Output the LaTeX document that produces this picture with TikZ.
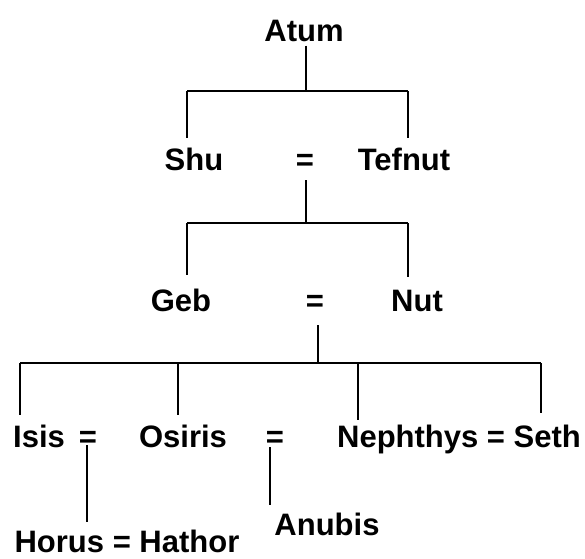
\documentclass[tikz,border=0pt]{standalone}
\usepackage{fontspec}
\setmainfont{Liberation Sans}
\begin{document}
\begin{tikzpicture}[x=1pt,y=-1pt,
  lbl/.style={font=\fontsize{31}{31}\selectfont\bfseries, inner sep=0pt, anchor=base},
  ln/.style={line width=1.4pt}]
\useasboundingbox (0,0) rectangle (585,558);
% names
\node[lbl] (atum)   at (304,41)  {Atum};
\node[lbl] (shu)    at (194,170) {Shu};
\node[lbl] (eqa)    at (305,170) {=};
\node[lbl] (tefnut) at (404,170) {Tefnut};
\node[lbl] (geb)    at (181,311) {Geb};
\node[lbl] (eqb)    at (315,311) {=};
\node[lbl] (nut)    at (417,311) {Nut};
\node[lbl] (isis)   at (39,447)  {Isis};
\node[lbl] (eqc)    at (88,447)  {=};
\node[lbl] (osiris) at (183,447) {Osiris};
\node[lbl] (eqd)    at (275,447) {=};
\node[lbl] (nephseth) at (459,447) {Nephthys = Seth};
\node[lbl] (horus)  at (127,552) {Horus = Hathor};
\node[lbl] (anubis) at (327,535) {Anubis};
% junctions
\coordinate (ja)  at (306,91);
\coordinate (jal) at (187,91);
\coordinate (jar) at (408,91);
\coordinate (jb)  at (306,223);
\coordinate (jbl) at (187,223);
\coordinate (jbr) at (408,223);
\coordinate (jc)  at (318,363);
\coordinate (jc1) at (20,363);
\coordinate (jc2) at (178,363);
\coordinate (jc3) at (358,363);
\coordinate (jc4) at (541,363);
\coordinate (xh)  at (87,0);
\coordinate (xa)  at (270,0);
% generation 1
\draw[ln, shorten <=4pt] (atum.south -| ja) -- (ja);
\draw[ln] (jal) -- (jar);
\draw[ln, shorten >=9.5pt] (jal) -- (jal |- shu.north);
\draw[ln, shorten >=9.5pt] (jar) -- (jar |- tefnut.north);
% generation 2
\draw[ln, shorten <=10pt] (eqa.south -| jb) -- (jb);
\draw[ln] (jbl) -- (jbr);
\draw[ln, shorten >=13pt] (jbl) -- (jbl |- geb.north);
\draw[ln, shorten >=12pt] (jbr) -- (jbr |- nut.north);
% generation 3
\draw[ln, shorten <=14pt] (eqb.south -| jc) -- (jc);
\draw[ln] (jc1) -- (jc4);
\draw[ln, shorten >=9pt] (jc1) -- (jc1 |- isis.north);
\draw[ln, shorten >=9pt] (jc2) -- (jc2 |- osiris.north);
\draw[ln, shorten >=4pt] (jc3) -- (jc3 |- nephseth.north);
\draw[ln, shorten >=11pt] (jc4) -- (jc4 |- nephseth.north);
% children
\draw[ln, shorten <=-2pt, shorten >=7pt] (eqc.south -| xh) -- (horus.north -| xh);
\draw[ln, shorten >=7.5pt] (eqd.south -| xa) -- (anubis.north -| xa);
\end{tikzpicture}
\end{document}
